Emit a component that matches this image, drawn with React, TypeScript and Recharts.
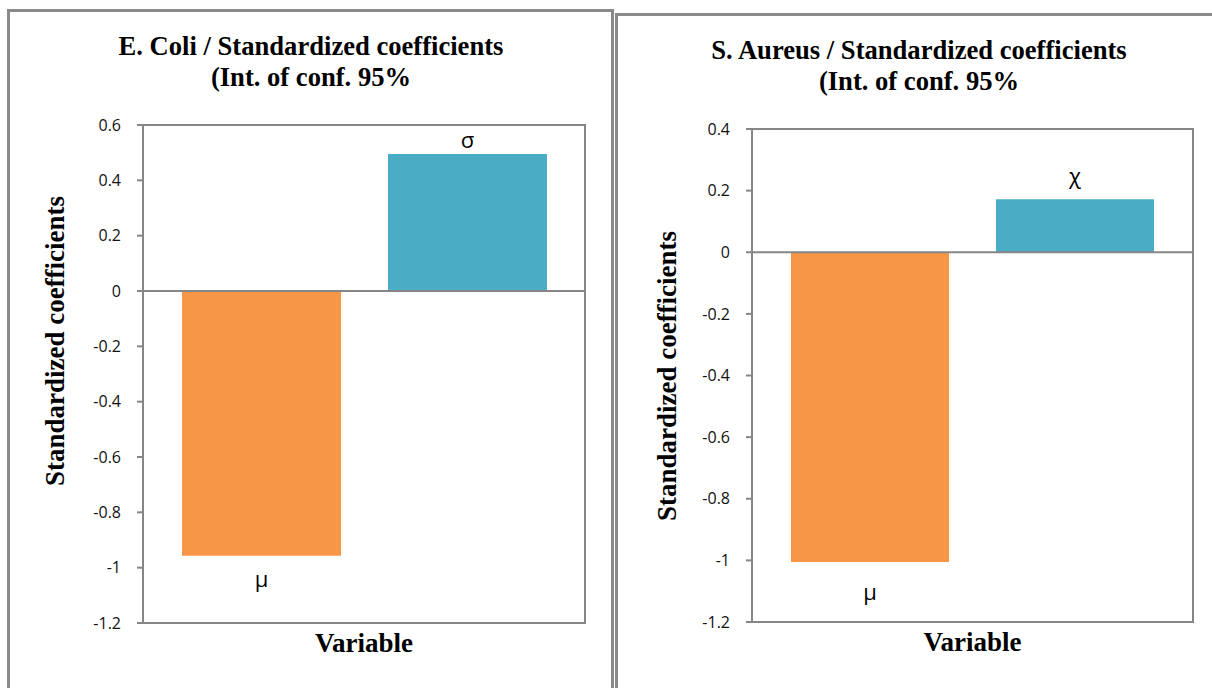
import { BarChart, Bar, XAxis, YAxis, ReferenceLine, ReferenceArea, LabelList, Label } from 'recharts'

const categories = ['Variable']

const eColiMu = [-0.957]
const eColiSigma = [0.495]
const eColiTicks = [-1.2, -1, -0.8, -0.6, -0.4, -0.2, 0, 0.2, 0.4, 0.6]

const sAureusMu = [-1.005]
const sAureusChi = [0.172]
const sAureusTicks = [-1.2, -1, -0.8, -0.6, -0.4, -0.2, 0, 0.2, 0.4]

const ORANGE = '#F79646'
const BLUE = '#4BACC6'
const GRID = '#868686'
const SERIF = '"Liberation Serif", "Times New Roman", serif'
const SANS = '"Open Sans", "Noto Sans", sans-serif'

const eColiData = categories.map((name, i) => ({ name, neg: eColiMu[i], pos: eColiSigma[i] }))
const sAureusData = categories.map((name, i) => ({ name, neg: sAureusMu[i], pos: sAureusChi[i] }))

// data label at the outer end of the bar, kept inside the plot like Excel does
function barLabel(text: string, plotTop: number, negOffset: number) {
  return (props: any) => {
    const { x, y, width, height, value } = props
    const top = Math.min(y, y + height)
    const bottom = Math.max(y, y + height)
    const ty = value < 0 ? bottom + negOffset : Math.max(top - 15, plotTop + 23)
    return (
      <text x={x + width / 2} y={ty} textAnchor="middle" fontFamily={SANS} fontSize={22} fill="#000">
        {text}
      </text>
    )
  }
}

function yTitle(cx: number, cy: number) {
  return () => (
    <text
      x={cx}
      y={cy}
      transform={`rotate(-90 ${cx} ${cy})`}
      textAnchor="middle"
      dominantBaseline="central"
      fontFamily={SERIF}
      fontWeight="bold"
      fontSize={27}
      fill="#000"
    >
      Standardized coefficients
    </text>
  )
}

function xTitle(props: any) {
  const vb = props.viewBox
  return (
    <text x={vb.x + vb.width / 2} y={vb.y + 29} textAnchor="middle" fontFamily={SERIF} fontWeight="bold" fontSize={27} fill="#000">
      Variable
    </text>
  )
}

interface PanelProps {
  data: Array<{ name: string; neg: number; pos: number }>
  ticks: number[]
  negLabel: string
  posLabel: string
  margin: { top: number; right: number; bottom: number; left: number }
  width: number
  titleX: number
  titleY: number
  negOffset: number
}

function Panel({ data, ticks, negLabel, posLabel, margin, width, titleX, titleY, negOffset }: PanelProps) {
  const lo = ticks[0]
  const hi = ticks[ticks.length - 1]
  return (
    <BarChart width={width} height={688} data={data} margin={margin} barCategoryGap={39} barGap={47}>
      <XAxis dataKey="name" tick={false} axisLine={false} tickLine={false} height={40}>
        <Label content={xTitle} />
      </XAxis>
      <YAxis
        type="number"
        domain={[lo, hi]}
        ticks={ticks}
        width={110}
        axisLine={{ stroke: GRID, strokeWidth: 2 }}
        tickLine={{ stroke: GRID, strokeWidth: 2 }}
        tickSize={6}
        tickMargin={16}
        tick={{ fontFamily: SANS, fontSize: 16, fill: '#111' }}
      >
        <Label content={yTitle(titleX, titleY)} />
      </YAxis>
      <ReferenceArea y1={lo} y2={hi} fill="none" stroke={GRID} strokeWidth={2} />
      <Bar dataKey="neg" fill={ORANGE} isAnimationActive={false}>
        <LabelList dataKey="neg" content={barLabel(negLabel, margin.top, negOffset)} />
      </Bar>
      <Bar dataKey="pos" fill={BLUE} isAnimationActive={false}>
        <LabelList dataKey="pos" content={barLabel(posLabel, margin.top, negOffset)} />
      </Bar>
      <ReferenceLine y={0} stroke={GRID} strokeWidth={2} />
    </BarChart>
  )
}

const titleStyle: React.CSSProperties = {
  position: 'absolute',
  width: 600,
  textAlign: 'center',
  fontFamily: SERIF,
  fontWeight: 'bold',
  fontSize: 26.6,
  lineHeight: '31px',
  color: '#000',
}

export default function App() {
  return (
    <div style={{ position: 'fixed', left: 0, top: 0, width: 1212, height: 688, overflow: 'hidden', background: '#fff' }}>
      <div style={{ position: 'absolute', left: 7, top: 9, width: 607, height: 720, border: '3px solid #8a8a8a', boxSizing: 'border-box' }} />
      <div style={{ position: 'absolute', left: 615, top: 13, width: 640, height: 720, border: '3px solid #8a8a8a', boxSizing: 'border-box' }} />

      <div style={{ ...titleStyle, left: 11, top: 31 }}>
        E. Coli / Standardized coefficients
        <br />
        (Int. of conf. 95%
      </div>
      <div style={{ ...titleStyle, left: 619, top: 35 }}>
        S. Aureus / Standardized coefficients
        <br />
        (Int. of conf. 95%
      </div>

      <div style={{ position: 'absolute', left: 0, top: 0 }}>
        <Panel
          data={eColiData}
          ticks={eColiTicks}
          negLabel="μ"
          posLabel="σ"
          width={612}
          margin={{ top: 125, right: 27, bottom: 25, left: 33 }}
          titleX={55}
          titleY={341}
          negOffset={31}
        />
      </div>
      <div style={{ position: 'absolute', left: 612, top: 0 }}>
        <Panel
          data={sAureusData}
          ticks={sAureusTicks}
          negLabel="μ"
          posLabel="χ"
          width={600}
          margin={{ top: 129, right: 19, bottom: 26, left: 30 }}
          titleX={55}
          titleY={376}
          negOffset={38}
        />
      </div>
    </div>
  )
}
